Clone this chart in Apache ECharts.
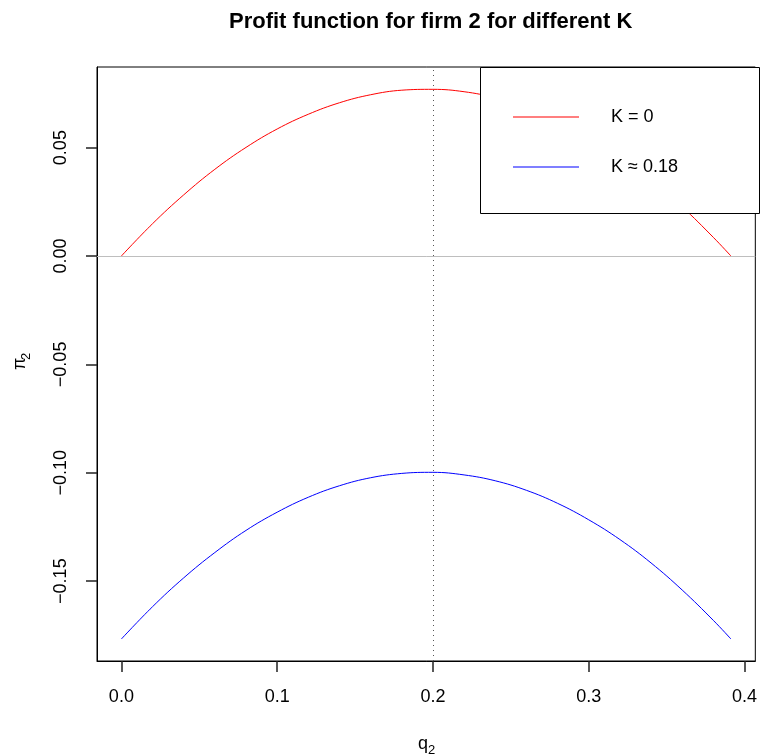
<!DOCTYPE html>
<html><head><meta charset="utf-8">
<script src="https://cdn.jsdelivr.net/npm/echarts@6/dist/echarts.min.js"></script>
<style>html,body{margin:0;padding:0;background:#fff}#c{width:760px;height:755px}</style>
</head><body><div id="c"></div>
<script>
// quantity of firm 2
const q2 = [0, 0.02, 0.04, 0.06, 0.08, 0.10, 0.12, 0.14, 0.16, 0.18, 0.20, 0.22, 0.24, 0.26, 0.28, 0.30, 0.32, 0.34, 0.36, 0.38, 0.3913];
// profit for K = 0
const profitK0 = [0, 0.0149, 0.0282, 0.0400, 0.0501, 0.0586, 0.0654, 0.0707, 0.0744, 0.0765, 0.0769, 0.0758, 0.0730, 0.0686, 0.0626, 0.0551, 0.0459, 0.0351, 0.0227, 0.0086, 0];
// profit for K ≈ 0.18
const profitK018 = [-0.1767, -0.1618, -0.1485, -0.1368, -0.1266, -0.1182, -0.1113, -0.1060, -0.1023, -0.1003, -0.0998, -0.1010, -0.1037, -0.1081, -0.1141, -0.1217, -0.1308, -0.1416, -0.1541, -0.1681, -0.1767];
const seriesNames = ['K = 0', 'K \u2248 0.18'];
const xTicks = [0, 0.1, 0.2, 0.3, 0.4];
const yTicks = [-0.15, -0.10, -0.05, 0, 0.05];
const qStar = 0.1962;
const hLine = 0;
const xRange = [-0.01565, 0.40695];
const yRange = [-0.18685, 0.08720];

const FF = '"Liberation Sans", Arial, Helvetica, sans-serif';
const chart = echarts.init(document.getElementById('c'));
const pairs = (xs, ys) => xs.map((x, i) => [x, ys[i]]);

chart.setOption({
  animation: false,
  backgroundColor: '#fff',
  title: {
    text: 'Profit function for firm 2 for different K',
    left: 224, top: 6,
    textStyle: { fontFamily: FF, fontSize: 22, fontWeight: 'bold', color: '#000' }
  },
  grid: { left: 97, right: 1, top: 67, bottom: 94, show: true, borderColor: '#000', borderWidth: 1 },
  xAxis: {
    type: 'value', min: xRange[0], max: xRange[1],
    axisLine: { show: true, onZero: false, lineStyle: { color: '#000', width: 1 } },
    splitLine: { show: false },
    axisTick: { show: true, length: 11, customValues: xTicks, lineStyle: { color: '#222', width: 1.5 } },
    axisLabel: { customValues: xTicks, margin: 27, fontSize: 18, color: '#000', fontFamily: FF,
      formatter: v => v.toFixed(1) }
  },
  yAxis: {
    type: 'value', min: yRange[0], max: yRange[1],
    axisLine: { show: true, onZero: false, lineStyle: { color: '#000', width: 1 } },
    splitLine: { show: false },
    axisTick: { show: true, length: 11, customValues: yTicks, lineStyle: { color: '#222', width: 1.5 } },
    axisLabel: { customValues: yTicks, margin: 27, rotate: 90, fontSize: 18, color: '#000', fontFamily: FF,
      formatter: v => (v < 0 ? '\u2212' : '') + Math.abs(v).toFixed(2) }
  },
  legend: {
    orient: 'vertical', left: 513, top: 108, z: 20, padding: 0,
    icon: 'rect', itemWidth: 66, itemHeight: 1, itemGap: 32,
    textStyle: { fontSize: 18, color: '#000', fontFamily: FF, padding: [0, 0, 0, 27], lineHeight: 18 },
    data: seriesNames
  },
  graphic: [
    { type: 'rect', z: 10, shape: { x: 480.5, y: 67.5, width: 279, height: 146 },
      style: { fill: '#fff', stroke: '#000', lineWidth: 1 } },
    { type: 'text', x: 418, y: 735, style: { text: 'q', fontSize: 18, fontFamily: FF, fill: '#000' } },
    { type: 'text', x: 428, y: 744, style: { text: '2', fontSize: 13, fontFamily: FF, fill: '#000' } },
    { type: 'text', x: 11, y: 370, rotation: Math.PI / 2, style: { text: '\u03c0', fontSize: 18, fontFamily: FF, fill: '#000' } },
    { type: 'text', x: 20, y: 360, rotation: Math.PI / 2, style: { text: '2', fontSize: 13, fontFamily: FF, fill: '#000' } }
  ],
  series: [
    {
      name: seriesNames[0], type: 'line', data: pairs(q2, profitK0), smooth: 0.4,
      symbol: 'none', lineStyle: { color: '#ff0000', width: 1 }, itemStyle: { color: '#ff0000' },
      markLine: {
        silent: true, symbol: 'none', label: { show: false },
        data: [
          { yAxis: hLine, lineStyle: { color: '#bebebe', width: 1, type: 'solid' } },
          { xAxis: qStar, lineStyle: { color: '#555', width: 1, type: [1, 4] } }
        ]
      }
    },
    {
      name: seriesNames[1], type: 'line', data: pairs(q2, profitK018), smooth: 0.4,
      symbol: 'none', lineStyle: { color: '#0000ff', width: 1 }, itemStyle: { color: '#0000ff' }
    }
  ]
});
</script>
</body></html>
